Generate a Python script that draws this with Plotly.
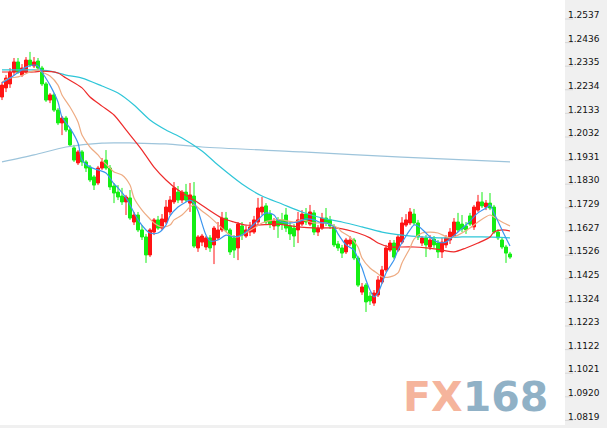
import plotly.graph_objects as go

# ---------------- data ----------------
opens = [1.2186,1.2225,1.2242,1.2293,1.2336,1.2280,1.2293,1.2344,1.2319,1.2340,
         1.2310,1.2242,1.2173,1.2195,1.2130,1.2075,1.2096,1.2045,1.1968,1.1904,
         1.1951,1.1908,1.1886,1.1844,1.1818,1.1882,1.1916,1.1882,1.1805,1.1779,
         1.1762,1.1737,1.1754,1.1651,1.1681,1.1617,1.1587,1.1510,1.1608,1.1660,
         1.1625,1.1651,1.1694,1.1737,1.1779,1.1745,1.1779,1.1732,1.1762,1.1540,
         1.1565,1.1544,1.1583,1.1553,1.1583,1.1617,1.1668,1.1617,1.1583,1.1540,
         1.1634,1.1591,1.1608,1.1608,1.1651,1.1694,1.1720,1.1685,1.1634,1.1660,
         1.1660,1.1681,1.1634,1.1625,1.1617,1.1642,1.1685,1.1642,1.1690,1.1608,
         1.1625,1.1668,1.1660,1.1630,1.1557,1.1540,1.1523,1.1557,1.1574,1.1497,
         1.1351,1.1381,1.1334,1.1304,1.1339,1.1394,1.1446,1.1531,1.1561,1.1531,
         1.1565,1.1638,1.1647,1.1685,1.1647,1.1561,1.1583,1.1544,1.1578,1.1561,
         1.1523,1.1553,1.1574,1.1591,1.1651,1.1642,1.1634,1.1677,1.1630,1.1702,
         1.1737,1.1715,1.1732,1.1715,1.1608,1.1574,1.1544,1.1514]
highs = [1.2250,1.2280,1.2310,1.2353,1.2353,1.2327,1.2357,1.2379,1.2357,1.2353,
         1.2319,1.2250,1.2203,1.2203,1.2139,1.2105,1.2105,1.2053,1.1981,1.1959,
         1.1959,1.1916,1.1895,1.1852,1.1891,1.1925,1.1959,1.1895,1.1818,1.1809,
         1.1797,1.1767,1.1788,1.1694,1.1694,1.1638,1.1600,1.1625,1.1668,1.1677,
         1.1685,1.1745,1.1762,1.1822,1.1805,1.1788,1.1814,1.1818,1.1822,1.1595,
         1.1600,1.1591,1.1595,1.1634,1.1651,1.1694,1.1694,1.1625,1.1595,1.1651,
         1.1651,1.1634,1.1651,1.1677,1.1754,1.1758,1.1732,1.1702,1.1668,1.1672,
         1.1690,1.1711,1.1651,1.1642,1.1694,1.1702,1.1711,1.1724,1.1702,1.1638,
         1.1690,1.1711,1.1677,1.1642,1.1570,1.1553,1.1583,1.1591,1.1583,1.1506,
         1.1390,1.1390,1.1351,1.1360,1.1420,1.1463,1.1553,1.1574,1.1574,1.1595,
         1.1672,1.1685,1.1711,1.1707,1.1660,1.1591,1.1595,1.1595,1.1591,1.1574,
         1.1583,1.1595,1.1625,1.1668,1.1690,1.1681,1.1651,1.1690,1.1724,1.1767,
         1.1779,1.1745,1.1775,1.1724,1.1621,1.1583,1.1553,1.1523]
lows = [1.2173,1.2207,1.2225,1.2280,1.2285,1.2272,1.2289,1.2314,1.2310,1.2302,
        1.2233,1.2165,1.2160,1.2122,1.2066,1.2023,1.2036,1.1972,1.1908,1.1895,
        1.1891,1.1865,1.1822,1.1788,1.1809,1.1874,1.1874,1.1788,1.1732,1.1745,
        1.1724,1.1681,1.1660,1.1638,1.1608,1.1574,1.1476,1.1501,1.1595,1.1617,
        1.1617,1.1642,1.1681,1.1728,1.1732,1.1732,1.1737,1.1694,1.1540,1.1523,
        1.1548,1.1531,1.1523,1.1471,1.1574,1.1608,1.1608,1.1510,1.1497,1.1488,
        1.1574,1.1583,1.1591,1.1600,1.1638,1.1681,1.1638,1.1625,1.1617,1.1583,
        1.1617,1.1608,1.1574,1.1544,1.1561,1.1634,1.1638,1.1634,1.1595,1.1591,
        1.1617,1.1634,1.1621,1.1544,1.1527,1.1497,1.1514,1.1548,1.1488,1.1373,
        1.1339,1.1266,1.1296,1.1292,1.1330,1.1386,1.1437,1.1523,1.1493,1.1523,
        1.1557,1.1630,1.1638,1.1638,1.1574,1.1548,1.1501,1.1531,1.1540,1.1497,
        1.1497,1.1540,1.1557,1.1583,1.1608,1.1608,1.1600,1.1634,1.1617,1.1694,
        1.1711,1.1702,1.1702,1.1600,1.1574,1.1535,1.1476,1.1493]
closes = [1.2237,1.2267,1.2293,1.2336,1.2293,1.2310,1.2344,1.2323,1.2336,1.2310,
          1.2242,1.2173,1.2195,1.2130,1.2075,1.2096,1.2045,1.1981,1.1916,1.1951,
          1.1908,1.1882,1.1831,1.1809,1.1882,1.1908,1.1882,1.1801,1.1775,1.1758,
          1.1737,1.1758,1.1668,1.1681,1.1617,1.1587,1.1510,1.1617,1.1660,1.1625,
          1.1664,1.1715,1.1745,1.1797,1.1745,1.1779,1.1745,1.1767,1.1548,1.1587,
          1.1591,1.1583,1.1540,1.1625,1.1617,1.1668,1.1617,1.1523,1.1531,1.1642,
          1.1595,1.1617,1.1630,1.1660,1.1711,1.1715,1.1651,1.1642,1.1655,1.1634,
          1.1642,1.1625,1.1600,1.1591,1.1660,1.1685,1.1651,1.1694,1.1608,1.1625,
          1.1668,1.1647,1.1634,1.1553,1.1540,1.1518,1.1574,1.1574,1.1497,1.1381,
          1.1373,1.1309,1.1313,1.1347,1.1403,1.1446,1.1540,1.1561,1.1501,1.1587,
          1.1647,1.1660,1.1694,1.1647,1.1587,1.1583,1.1553,1.1574,1.1553,1.1523,
          1.1565,1.1583,1.1608,1.1651,1.1617,1.1621,1.1617,1.1642,1.1715,1.1737,
          1.1720,1.1732,1.1711,1.1608,1.1583,1.1544,1.1518,1.1501]
bars = list(range(len(closes)))

# moving averages, read at sample bars
ma_fast_x = [0,2,4,6,8,9,10,12,14,15,17,19,20,22,24,26,28,29,31,32,34,36,37,39,41,42,44,46,47,48,49,
             51,52,54,56,58,60,62,64,66,68,69,71,74,76,78,80,81,83,84,86,88,89,90,91,92,93,94,96,98,99,
             101,102,103,104,106,107,109,111,112,114,116,117,119,121,122,123,125,127]
ma_fast_y = [1.2246,1.2267,1.2291,1.2314,1.2323,1.2319,1.2293,1.2237,1.2165,1.2100,1.2053,1.1989,1.1916,1.1886,1.1874,1.1861,1.1814,1.1797,1.1754,1.1724,1.1660,1.1617,1.1604,1.1604,1.1638,1.1677,1.1715,1.1737,1.1745,1.1732,1.1698,
             1.1595,1.1570,1.1574,1.1595,1.1587,1.1595,1.1625,1.1660,1.1690,1.1681,1.1658,1.1647,1.1651,1.1664,1.1660,1.1647,1.1647,1.1630,1.1600,1.1553,1.1531,1.1493,1.1454,1.1403,1.1360,1.1330,1.1347,1.1433,1.1488,1.1531,
             1.1591,1.1617,1.1638,1.1634,1.1604,1.1587,1.1565,1.1565,1.1578,1.1608,1.1638,1.1655,1.1690,1.1711,1.1724,1.1690,1.1617,1.1548]

ma_mid_x = [0,2,4,7,9,10,12,14,15,17,19,20,22,24,25,27,28,30,32,33,35,37,38,40,42,43,45,47,48,50,52,55,57,59,60,
            63,65,68,70,73,75,78,81,84,85,87,89,90,92,94,95,97,99,100,102,103,105,107,109,112,114,117,119,122,123,125,127]
ma_mid_y = [1.2250,1.2267,1.2272,1.2293,1.2302,1.2293,1.2276,1.2237,1.2195,1.2143,1.2079,1.2023,1.1972,1.1938,1.1916,1.1882,1.1865,1.1852,1.1809,1.1754,1.1702,1.1664,1.1647,1.1630,1.1638,1.1660,1.1681,1.1715,1.1724,1.1698,1.1672,1.1625,1.1595,1.1587,1.1595,
            1.1625,1.1647,1.1660,1.1660,1.1651,1.1660,1.1647,1.1647,1.1625,1.1608,1.1587,1.1544,1.1497,1.1454,1.1429,1.1416,1.1416,1.1433,1.1476,1.1540,1.1578,1.1604,1.1608,1.1604,1.1583,1.1595,1.1625,1.1651,1.1681,1.1672,1.1651,1.1634]

ma_slow_x = [0,5,8,10,14,16,20,22,25,28,31,35,38,41,44,48,51,55,58,61,64,69,74,79,84,89,92,94,97,99,103,106,110,113,116,119,122,123,125,127]
ma_slow_y = [1.2293,1.2293,1.2293,1.2297,1.2289,1.2267,1.2225,1.2186,1.2147,1.2109,1.2045,1.1959,1.1886,1.1831,1.1788,1.1745,1.1711,1.1668,1.1651,1.1638,1.1638,1.1642,1.1630,1.1625,1.1625,1.1604,1.1583,1.1561,1.1544,1.1544,1.1544,1.1540,1.1531,1.1523,1.1540,1.1561,1.1587,1.1608,1.1617,1.1613]

ma_60_x = [0,8,12,16,20,25,29,33,37,41,45,50,54,60,65,70,75,80,85,90,95,100,105,110,115,120,127]
ma_60_y = [1.2302,1.2302,1.2297,1.2280,1.2267,1.2233,1.2203,1.2152,1.2088,1.2045,1.2011,1.1955,1.1895,1.1814,1.1762,1.1728,1.1694,1.1668,1.1651,1.1630,1.1608,1.1595,1.1587,1.1583,1.1587,1.1587,1.1583]

ma_200_x = [0,8,16,25,33,41,50,75,100,127]
ma_200_y = [1.1908,1.1938,1.1972,1.1989,1.1989,1.1985,1.1972,1.1951,1.1929,1.1908]

tick_vals = [1.2537,1.2436,1.2335,1.2234,1.2133,1.2032,1.1931,1.1830,1.1729,
             1.1627,1.1526,1.1425,1.1324,1.1223,1.1122,1.1021,1.0920,1.0819]

# ---------------- figure ----------------
UP = '#ff1414'
DOWN = '#14ee14'

fig = go.Figure()
fig.add_trace(go.Candlestick(
    x=bars, open=opens, high=highs, low=lows, close=closes,
    increasing=dict(line=dict(color=UP, width=1), fillcolor=UP),
    decreasing=dict(line=dict(color=DOWN, width=1), fillcolor=DOWN),
    whiskerwidth=0, showlegend=False, hoverinfo='skip'))

def ma(xs, ys, color):
    fig.add_trace(go.Scatter(x=xs, y=ys, mode='lines',
                             line=dict(color=color, width=1.2, shape='spline', smoothing=0.8),
                             showlegend=False, hoverinfo='skip'))

ma(ma_200_x, ma_200_y, '#9dc4db')
ma(ma_60_x, ma_60_y, '#2fc6d8')
ma(ma_slow_x, ma_slow_y, '#ee2a2a')
ma(ma_mid_x, ma_mid_y, '#eeab82')
ma(ma_fast_x, ma_fast_y, '#3b95ef')

shapes = []
for v in tick_vals:
    shapes.append(dict(type='line', xref='paper', yref='y', x0=1.0, x1=1.0 + 8/565,
                       ysizemode='pixel', yanchor=v, y0=-4, y1=-4,
                       line=dict(color='#d6d6d6', width=1)))

fig.update_layout(
    width=607, height=428, autosize=False,
    margin=dict(l=0, r=42, t=0, b=3),
    paper_bgcolor='#f0f0f0', plot_bgcolor='white',
    boxgap=0.25, boxgroupgap=0,
    shapes=shapes,
    xaxis=dict(visible=False, range=[-0.5, 140.75], rangeslider=dict(visible=False), fixedrange=True),
    yaxis=dict(side='right', range=[1.07822, 1.26012], showgrid=False, zeroline=False,
               showline=False, ticks='', tickvals=tick_vals,
               ticktext=[f"{v:.4f}" for v in tick_vals],
               ticklabelstandoff=2,
               tickfont=dict(family='DejaVu Sans', size=9, color='#111111'),
               fixedrange=True),
    annotations=[dict(xref='paper', yref='paper', x=0.8416, y=0.0659,
                      xanchor='center', yanchor='middle', showarrow=False,
                      text='<span style="color:#f5b49c">FX</span><span style="color:#90b1c6">168</span>',
                      font=dict(family='DejaVu Sans', size=41, weight='bold'))],
)

fig.write_html("out.html", config={'displayModeBar': False})

# remove the browser's default page margin so the 607x428 figure fills the window
with open("out.html", encoding="utf-8") as f:
    html = f.read()
html = html.replace("<head>", "<head><style>html,body{margin:0;padding:0;overflow:hidden;}</style>", 1)
with open("out.html", "w", encoding="utf-8") as f:
    f.write(html)
